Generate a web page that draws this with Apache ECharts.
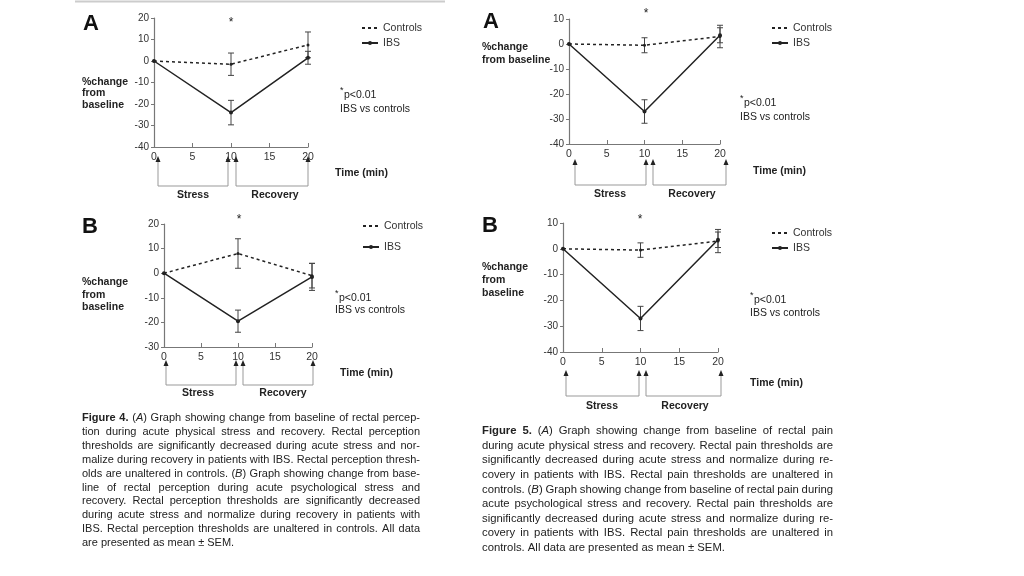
<!DOCTYPE html>
<html><head><meta charset="utf-8">
<script src="https://cdn.jsdelivr.net/npm/echarts@6/dist/echarts.min.js"></script>
<style>html,body{margin:0;padding:0;background:#fff}#c{width:1024px;height:576px}</style>
</head><body><div id="c"></div>
<script>
// ---------- data ----------
const times = [0, 10, 20];
// Figure 4A (rectal perception, physical stress)
const fig4aControls = [0, -1.5, 7.5];
const fig4aControlsSem = [0, 5.2, 6];
const fig4aIBS = [0, -24, 1.5];
const fig4aIBSSem = [0, 5.7, 3];
// Figure 5A (rectal pain, physical stress)
const fig5aControls = [0, -0.5, 3];
const fig5aControlsSem = [0, 3, 4.5];
const fig5aIBS = [0, -27, 3.5];
const fig5aIBSSem = [0, 4.7, 3];
// Figure 4B (rectal perception, psychological stress)
const fig4bControls = [0, 8, -1];
const fig4bControlsSem = [0, 6, 5];
const fig4bIBS = [0, -19.5, -1.5];
const fig4bIBSSem = [0, 4.5, 5.5];
// Figure 5B (rectal pain, psychological stress)
const fig5bControls = [0, -0.5, 3];
const fig5bControlsSem = [0, 2.8, 4.5];
const fig5bIBS = [0, -27, 3.5];
const fig5bIBSSem = [0, 4.7, 3];

const yMin = [-40, -40, -30, -40];
const yMax = [20, 10, 20, 10];
const panelLetters = ['A', 'A', 'B', 'B'];
const seriesNames = ['Controls', 'IBS'];

const fig4Caption = [
  'Figure 4. (A) Graph showing change from baseline of rectal percep-',
  'tion during acute physical stress and recovery. Rectal perception',
  'thresholds are significantly decreased during acute stress and nor-',
  'malize during recovery in patients with IBS. Rectal perception thresh-',
  'olds are unaltered in controls. (B) Graph showing change from base-',
  'line of rectal perception during acute psychological stress and',
  'recovery. Rectal perception thresholds are significantly decreased',
  'during acute stress and normalize during recovery in patients with',
  'IBS. Rectal perception thresholds are unaltered in controls. All data',
  'are presented as mean \u00b1 SEM.'
];
const fig5Caption = [
  'Figure 5. (A) Graph showing change from baseline of rectal pain',
  'during acute physical stress and recovery. Rectal pain thresholds are',
  'significantly decreased during acute stress and normalize during re-',
  'covery in patients with IBS. Rectal pain thresholds are unaltered in',
  'controls. (B) Graph showing change from baseline of rectal pain during',
  'acute psychological stress and recovery. Rectal pain thresholds are',
  'significantly decreased during acute stress and normalize during re-',
  'covery in patients with IBS. Rectal pain thresholds are unaltered in',
  'controls. All data are presented as mean \u00b1 SEM.'
];

// ---------- layout ----------
const FONT = '"Liberation Sans", Arial, sans-serif';
const INK = '#222';
const AXIS = '#777';
const grids = [
  {left: 154, top: 18, width: 154, height: 129},
  {left: 569, top: 19, width: 151, height: 125},
  {left: 164, top: 224, width: 148, height: 123},
  {left: 563, top: 223, width: 155, height: 129}
];
const panels = [
  {c: fig4aControls, cs: fig4aControlsSem, b: fig4aIBS, bs: fig4aIBSSem},
  {c: fig5aControls, cs: fig5aControlsSem, b: fig5aIBS, bs: fig5aIBSSem},
  {c: fig4bControls, cs: fig4bControlsSem, b: fig4bIBS, bs: fig4bIBSSem},
  {c: fig5bControls, cs: fig5bControlsSem, b: fig5bIBS, bs: fig5bIBSSem}
];
const deco = [
  {letter: [83, 24], ast: [231, 23], ytitle: [82, 76, 11.5, '%change\nfrom\nbaseline'], time: [335, 173],
   p: [340, 95, 109], arrows: [158, 228, 236, 308], arrowTop: 159, bracket: 186, lab: [195, 193, 275],
   legend: [361, 22, 3]},
  {letter: [483, 22], ast: [646, 14], ytitle: [482, 41, 13, '%change\nfrom baseline'], time: [753, 171],
   p: [740, 103, 117], arrows: [575, 646, 653, 726], arrowTop: 162, bracket: 185, lab: [194, 610, 692],
   legend: [771, 22, 3]},
  {letter: [82, 227], ast: [239, 220], ytitle: [82, 276, 12.5, '%change\nfrom\nbaseline'], time: [340, 373],
   p: [335, 298, 310], arrows: [166, 236, 243, 313], arrowTop: 363, bracket: 385, lab: [393, 198, 283],
   legend: [362, 220, 9]},
  {letter: [482, 226], ast: [640, 220], ytitle: [482, 261, 13, '%change\nfrom\nbaseline'], time: [750, 383],
   p: [750, 300, 313], arrows: [566, 639, 646, 721], arrowTop: 373, bracket: 396, lab: [406, 602, 685],
   legend: [771, 227, 3]}
];

function errRender(params, api) {
  const x = api.value(0), lo = api.value(1), hi = api.value(2);
  if (hi === lo) return null;
  const p1 = api.coord([x, hi]), p2 = api.coord([x, lo]);
  const w = 3;
  const style = {stroke: '#444', lineWidth: 1};
  return {type: 'group', children: [
    {type: 'line', shape: {x1: p1[0], y1: p1[1], x2: p2[0], y2: p2[1]}, style},
    {type: 'line', shape: {x1: p1[0] - w, y1: p1[1], x2: p1[0] + w, y2: p1[1]}, style},
    {type: 'line', shape: {x1: p2[0] - w, y1: p2[1], x2: p2[0] + w, y2: p2[1]}, style}
  ]};
}

const xAxis = [], yAxis = [], series = [], legend = [];
panels.forEach((p, i) => {
  xAxis.push({type: 'value', gridIndex: i, min: 0, max: 20, interval: 5,
    axisLine: {show: true, onZero: false, lineStyle: {color: AXIS, width: 1.2}},
    axisTick: {show: true, inside: true, length: 4, lineStyle: {color: AXIS}},
    axisLabel: {color: '#333', fontSize: 10.5, fontFamily: FONT, margin: 5},
    splitLine: {show: false}});
  yAxis.push({type: 'value', gridIndex: i, min: yMin[i], max: yMax[i], interval: 10,
    axisLine: {show: true, onZero: false, lineStyle: {color: AXIS, width: 1.2}},
    axisTick: {show: true, length: 3, lineStyle: {color: AXIS}},
    axisLabel: {color: '#333', fontSize: 10, fontFamily: FONT, margin: 5},
    splitLine: {show: false}});
  const mk = (v) => times.map((t, k) => [t, v[k]]);
  const mkErr = (v, s) => times.map((t, k) => [t, v[k] - s[k], v[k] + s[k]]);
  series.push({type: 'custom', name: 'errC' + i, xAxisIndex: i, yAxisIndex: i, renderItem: errRender,
    data: mkErr(p.c, p.cs), encode: {x: 0, y: [1, 2]}, z: 1, silent: true});
  series.push({type: 'custom', name: 'errB' + i, xAxisIndex: i, yAxisIndex: i, renderItem: errRender,
    data: mkErr(p.b, p.bs), encode: {x: 0, y: [1, 2]}, z: 1, silent: true});
  series.push({type: 'line', name: seriesNames[0], xAxisIndex: i, yAxisIndex: i, data: mk(p.c),
    symbol: 'circle', symbolSize: 3, itemStyle: {color: INK},
    lineStyle: {color: INK, width: 1.5, type: [3, 3]}, z: 3});
  series.push({type: 'line', name: seriesNames[1], xAxisIndex: i, yAxisIndex: i, data: mk(p.b),
    symbol: 'circle', symbolSize: 4, itemStyle: {color: INK},
    lineStyle: {color: INK, width: 1.5}, z: 3});
  const d = deco[i];
  legend.push({orient: 'vertical', left: d.legend[0], top: d.legend[1], itemGap: d.legend[2],
    itemWidth: 16, itemHeight: 5, selectedMode: false, padding: 0,
    data: [{name: seriesNames[0], itemStyle: {opacity: 0}}, {name: seriesNames[1]}],
    textStyle: {color: '#333', fontSize: 10.5, fontFamily: FONT, lineHeight: 12}});
});

// ---------- annotation graphics ----------
const graphic = [];
graphic.push({type: 'line', shape: {x1: 75, y1: 1.5, x2: 445, y2: 1.5}, style: {stroke: '#ccc', lineWidth: 2}});
deco.forEach((d, i) => {
  graphic.push({type: 'text', x: d.letter[0], y: d.letter[1],
    style: {text: panelLetters[i], font: 'bold 22px ' + FONT, fill: '#111', textVerticalAlign: 'middle'}});
  graphic.push({type: 'text', x: d.ast[0], y: d.ast[1],
    style: {text: '*', font: '12px ' + FONT, fill: INK, textAlign: 'center', textVerticalAlign: 'middle'}});
  graphic.push({type: 'text', x: d.ytitle[0], y: d.ytitle[1],
    style: {text: d.ytitle[3], font: 'bold 10.5px ' + FONT, lineHeight: d.ytitle[2], fill: INK, textVerticalAlign: 'top'}});
  graphic.push({type: 'text', x: d.time[0], y: d.time[1],
    style: {text: 'Time (min)', font: 'bold 10.5px ' + FONT, fill: INK, textVerticalAlign: 'middle'}});
  graphic.push({type: 'text', x: d.p[0], y: d.p[1] - 4,
    style: {text: '*', font: '9px ' + FONT, fill: INK, textVerticalAlign: 'middle'}});
  graphic.push({type: 'text', x: d.p[0] + 4, y: d.p[1],
    style: {text: 'p<0.01', font: '10.5px ' + FONT, fill: INK, textVerticalAlign: 'middle'}});
  graphic.push({type: 'text', x: d.p[0], y: d.p[2],
    style: {text: 'IBS vs controls', font: '10.5px ' + FONT, fill: INK, textVerticalAlign: 'middle'}});
  const a = d.arrows, top = d.arrowTop, br = d.bracket;
  [[a[0], a[1]], [a[2], a[3]]].forEach(([u, v]) => {
    graphic.push({type: 'polyline', shape: {points: [[u, top + 3], [u, br], [v, br], [v, top + 3]]},
      style: {stroke: '#999', lineWidth: 1, fill: null}});
    [u, v].forEach(xx => graphic.push({type: 'polygon',
      shape: {points: [[xx, top - 3], [xx - 2.5, top + 3], [xx + 2.5, top + 3]]}, style: {fill: INK}}));
  });
  graphic.push({type: 'text', x: d.lab[1], y: d.lab[0],
    style: {text: 'Stress', font: 'bold 10.5px ' + FONT, fill: INK, textAlign: 'center', textVerticalAlign: 'middle'}});
  graphic.push({type: 'text', x: d.lab[2], y: d.lab[0],
    style: {text: 'Recovery', font: 'bold 10.5px ' + FONT, fill: INK, textAlign: 'center', textVerticalAlign: 'middle'}});
});

// justified captions
const ctx = document.createElement('canvas').getContext('2d');
function measure(t, font) { ctx.font = font; return ctx.measureText(t).width; }
function caption(lines, x0, x1, y0, lh, size) {
  const base = size + 'px ' + FONT;
  lines.forEach((line, li) => {
    const words = line.split(' ');
    const info = words.map((w, wi) => {
      const font = (li === 0 && wi < 2 ? 'bold ' : '') + base;
      return {w, font, width: measure(w, font)};
    });
    const total = info.reduce((s, it) => s + it.width, 0);
    const last = li === lines.length - 1;
    const gap = last ? measure(' ', base) : Math.max(1.5, (x1 - x0 - total) / (words.length - 1));
    let x = x0;
    info.forEach(it => {
      const m = it.w.match(/^\(([AB])\)$/);
      const style = {text: m ? '(' + '{i|' + m[1] + '})' : it.w, font: it.font, fill: INK, textVerticalAlign: 'middle'};
      if (m) style.rich = {i: {fontStyle: 'italic', fontSize: size, fontFamily: FONT, fill: INK}};
      graphic.push({type: 'text', x: x, y: y0 + li * lh, style});
      x += it.width + gap;
    });
  });
}
caption(fig4Caption, 82, 420, 418, 13.9, 11);
caption(fig5Caption, 482, 833, 431, 14.6, 11.3);

const chart = echarts.init(document.getElementById('c'));
chart.setOption({
  animation: false,
  backgroundColor: '#fff',
  grid: grids,
  xAxis, yAxis, series, legend, graphic
});
</script></body></html>
